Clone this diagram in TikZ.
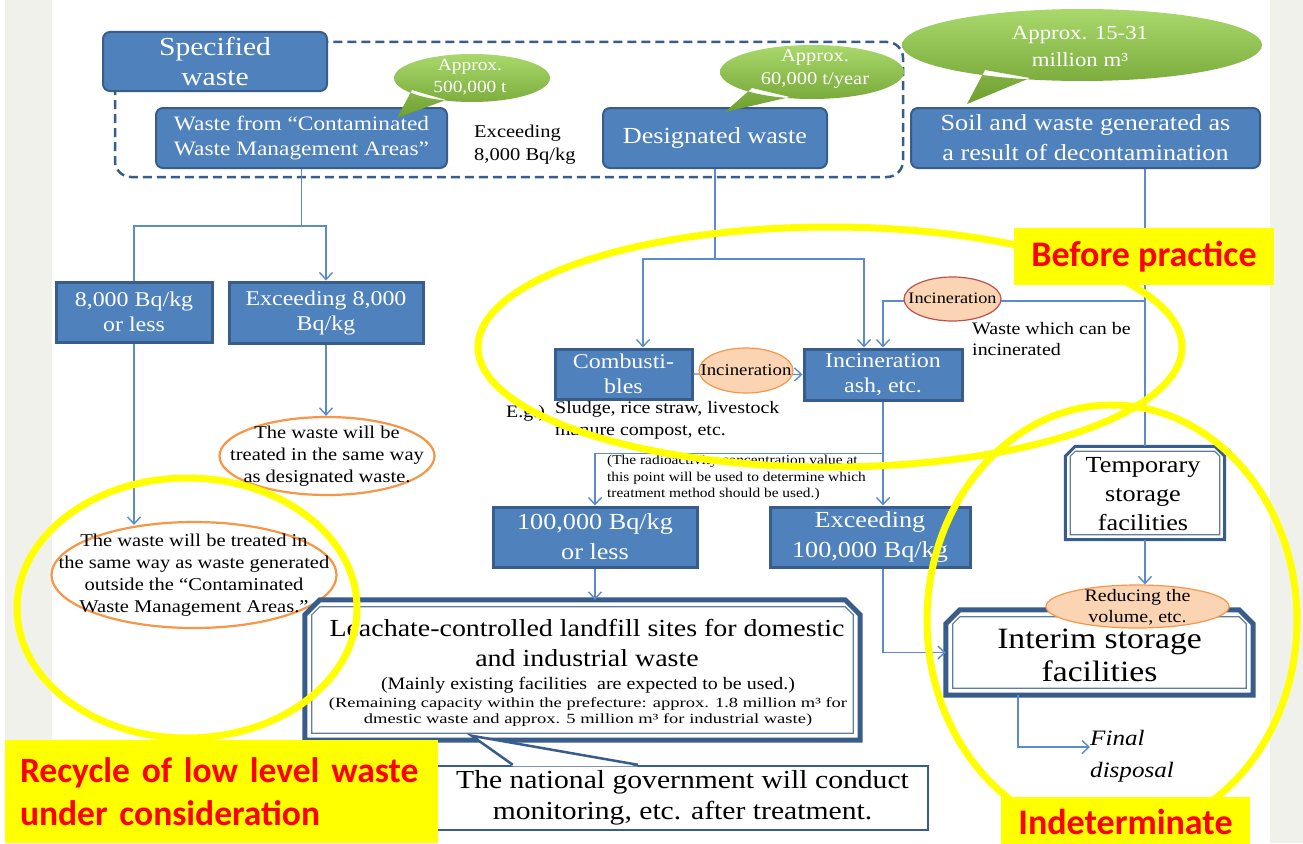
\documentclass[tikz,border=0pt]{standalone}
\usepackage{fontspec}
\usepackage{graphicx}
\setmainfont{Liberation Serif}[FakeStretch=1.14]
\newfontfamily\labfont{Carlito}
\usetikzlibrary{arrows.meta,shapes.geometric,calc}
\definecolor{bfill}{HTML}{4F81BD}
\definecolor{bdark}{HTML}{385D8A}
\definecolor{lineblue}{HTML}{5B8BC9}
\definecolor{orng}{HTML}{F79646}
\definecolor{peach}{HTML}{FBD4B4}
\definecolor{redbrd}{HTML}{C0504D}
\definecolor{ylw}{HTML}{FFFF00}
\definecolor{gleft}{HTML}{F1F1EC}
\definecolor{gtop}{HTML}{A9D86C}
\definecolor{gbot}{HTML}{6E9F2E}
\newcommand\fsz[2]{\fontsize{#1}{#2}\selectfont}
\newcommand\chframe[4]{%
 \draw[bdark,line width=#3,fill=white,line join=miter] (#1.south west) -- ($(#1.north west)+(0,#2)$) -- ($(#1.north west)+(#2,0)$) -- ($(#1.north east)+(-#2,0)$) -- ($(#1.north east)+(0,#2)$) -- (#1.south east) -- cycle;
 \draw[bdark!80,line width=1.2pt] ($(#1.south west)+(#4,-#4)$) -- ($(#1.north west)+(#4,#2)$) -- ($(#1.north west)+(#2,#4)$) -- ($(#1.north east)+(-#2,#4)$) -- ($(#1.north east)+(-#4,#2)$) -- ($(#1.south east)+(-#4,-#4)$) -- cycle;
}
\begin{document}
\begin{tikzpicture}[x=1pt,y=-1pt,
  rbox/.style={draw=bdark,fill=bfill,line width=2pt,rounded corners=7pt,text=white,align=center,inner sep=0pt},
  sbox/.style={draw=bdark,fill=bfill,line width=3pt,text=white,align=center,inner sep=0pt},
  conn/.style={draw=lineblue,line width=1.4pt},
  arr/.style={conn,-{Straight Barb[length=7pt,width=13pt,line width=1.4pt]}},
  oval/.style={ellipse,draw=orng,line width=2.2pt,inner sep=0pt},
  poval/.style={ellipse,draw=orng,fill=peach,line width=1.2pt,inner sep=0pt},
  plain/.style={inner sep=0pt,align=center},
  hl/.style={draw=ylw,line width=7pt},
  lab/.style={fill=ylw,text=red,inner sep=0pt,font=\labfont\bfseries\fsz{36}{43}},
  gbubble/.style={top color=gtop,bottom color=gbot,draw=none}
]
\useasboundingbox (0,0) rectangle (1303,843);
\fill[white] (0,0) rectangle (1303,843);
\fill[gleft] (5,0) rectangle (52,843);
\fill[gleft] (1270,0) rectangle (1303,843);

% dashed group frame
\draw[bdark,line width=2.5pt,dash pattern=on 9pt off 5pt,rounded corners=16pt] (115,42) rectangle (903,177);

% top boxes
\node[rbox,minimum width=224,minimum height=59,font=\fsz{26}{30}] (spec) at (215,61.5) {Specified\\waste};
\node[rbox,minimum width=291,minimum height=60,font=\fsz{20.5}{25}] (wfc) at (301.5,138) {Waste from “Contaminated\\Waste Management Areas”};
\node[plain,anchor=north west,align=left,font=\fsz{18}{23}] (ex8t) at (474,125) {Exceeding\\8,000 Bq/kg};
\node[rbox,minimum width=224,minimum height=60,font=\fsz{23}{28}] (desig) at (715,138) {Designated waste};
\node[rbox,minimum width=349,minimum height=60,font=\fsz{23}{30}] (soil) at (1085.5,138) {Soil and waste generated as\\a result of decontamination};

% second row
\node[sbox,minimum width=156,minimum height=60,font=\fsz{21}{25}] (b8k) at (134,312) {8,000 Bq/kg\\or less};
\node[sbox,minimum width=194,minimum height=61,font=\fsz{21}{25}] (ex8k) at (326,312.5) {Exceeding 8,000\\Bq/kg};
\node[oval,minimum width=215,minimum height=78] (ov1) at (327,456) {};
\node[plain,font=\fsz{18}{22}] (ov1t) at (327,456) {The waste will be\\treated in the same way\\as designated waste.};
\node[oval,minimum width=285,minimum height=106] (ov2) at (194,575) {};
\node[plain,font=\fsz{18}{22}] (ov2t) at (194,575) {The waste will be treated in\\the same way as waste generated\\outside the “Contaminated\\Waste Management Areas.”};

\node[sbox,minimum width=137,minimum height=50,font=\fsz{21}{25}] (comb) at (623.5,374) {Combusti-\\bles};
\node[sbox,minimum width=158,minimum height=51,font=\fsz{21}{25}] (incash) at (883,374.5) {Incineration\\ash, etc.};
\node[plain,anchor=north west,align=left,font=\fsz{17.5}{21}] (wcan) at (972,322) {Waste which can be\\incinerated};
\node[plain,anchor=west,font=\fsz{17.5}{22}] (eg) at (506,413) {E.g.)};
\node[plain,anchor=north west,align=left,font=\fsz{17.5}{22}] (egt) at (555,401) {Sludge, rice straw, livestock\\manure compost, etc.};
\node[plain,anchor=north west,align=left,font=\fsz{13.5}{16.5}] (paren) at (607,455) {(The radioactivity concentration value at\\this point will be used to determine which\\treatment method should be used.)};

\node[sbox,minimum width=204,minimum height=60,font=\fsz{23}{30}] (k100) at (595,537) {100,000 Bq/kg\\or less};
\node[sbox,minimum width=200,minimum height=60,font=\fsz{23}{30}] (ex100) at (870,537) {Exceeding\\100,000 Bq/kg};

% leachate frame
\node[plain,minimum width=555,minimum height=140] (leach) at (582.5,670) {};
\chframe{leach}{15}{5pt}{7}
\node[plain,font=\fsz{24.5}{30}] (leacht) at (587,643) {Leachate-controlled landfill sites for domestic\\and industrial waste};
\node[plain,font=\fsz{17.5}{20}] (leach2) at (588,685) {(Mainly existing facilities\ \ are expected to be used.)};
\node[plain,font=\fsz{14}{16.5}] (leach3) at (588,712) {\scalebox{1.16}[1]{\begin{tabular}{@{}c@{}}(Remaining capacity within the prefecture: approx. 1.8 million m³ for\\dmestic waste and approx. 5 million m³ for industrial waste)\end{tabular}}};

% government callout
\node[draw=bdark,line width=2.5pt,fill=white,minimum width=491,minimum height=64,inner sep=0pt,align=center,font=\fsz{26}{31}] (gov) at (682.5,798) {The national government will conduct\\monitoring, etc. after treatment.};
\fill[white] ($(gov.north west)+(77,1.6)$) -- ($(gov.north west)+(36,-29)$) -- ($(gov.north west)+(202,1.6)$) -- cycle;
\draw[bdark,line width=2.5pt] ($(gov.north west)+(77,0)$) -- ($(gov.north west)+(36,-29)$) -- ($(gov.north west)+(202,0)$);

% right column
\node[plain,minimum width=159,minimum height=93] (temp) at (1145,493) {};
\chframe{temp}{10}{3pt}{5}
\node[plain,font=\fsz{23}{29}] (tempt) at (1143,494) {Temporary\\storage\\facilities};
\node[plain,minimum width=307,minimum height=85] (interim) at (1099.5,652.5) {};
\chframe{interim}{14}{5pt}{7}
\node[plain,font=\fsz{29.5}{33}] (interimt) at (1099.5,655) {Interim storage\\facilities};
\node[poval,minimum width=183,minimum height=43] (reduce) at (1137.5,606.5) {};
\node[plain,font=\fsz{17.5}{21}] (reducet) at (1137.5,607) {Reducing the\\volume, etc.};
\node[plain,anchor=west,align=left,font=\itshape\fsz{22}{32}] (final) at (1090,756) {Final\\disposal};

% connectors
\coordinate (j1) at ($(wfc.south)+(0,57)$);
\draw[conn] (wfc.south) -- (j1);
\draw[conn] (j1) -| (b8k.north);
\draw[arr] (j1) -| (ex8k.north);
\draw[arr] (ex8k.south) -- (ex8k.south |- ov1.north);
\draw[arr] (b8k.south) -- ($(b8k.south |- ov2.north)+(0,4)$);

\coordinate (j2) at ($(desig.south)+(0,90)$);
\draw[conn] (desig.south) -- (j2);
\draw[arr] (j2) -| ($(comb.north)+(19.5,0)$);
\draw[arr] (j2) -| ($(incash.north)+(-19,0)$);
\draw[arr] (comb.east) -- (incash.west);

\draw[conn] (soil.south -| temp.north) -- (temp.north);
\coordinate (j3) at ($(soil.south -| temp.north)+(0,132)$);
\draw[arr] (j3) -| (incash.north);

\coordinate (j4) at ($(incash.south)+(0,52)$);
\draw[conn] (incash.south) -- (j4);
\draw[arr] (j4) -| (k100.north);
\draw[arr] (j4) -- (j4 |- ex100.north);
\draw[arr] (k100.south) -- (k100.south |- leach.north);
\draw[arr] (ex100.south -| incash.south) |- (interim.west);
\draw[arr] (temp.south) -- (temp.south |- reduce.north);
\draw[arr] ($(interim.south west)+(72,0)$) |- ($(final.west)+(0,-9)$);

% small incineration ellipses
\node[poval,minimum width=94,minimum height=45] (inc1) at (746,370.5) {};
\node[plain,font=\fsz{16.5}{18}] (inc1t) at (746,370.5) {Incineration};
\node[ellipse,draw=redbrd,fill=peach,line width=1.2pt,inner sep=0pt,minimum width=97,minimum height=44] (inc2) at (952.5,299) {};
\node[plain,font=\fsz{16}{18}] (inc2t) at (952.5,298) {Incineration};

% green bubbles
\shade[gbubble] (472,78) ellipse [x radius=78, y radius=24] (412,90) -- (397,118) -- (446,100) -- cycle;
\node[plain,text=white,font=\fsz{17}{22}] (b500) at (470,77) {Approx.\\500,000 t};
\shade[gbubble] (812,72) ellipse [x radius=92, y radius=27] (752,88) -- (725,112) -- (790,97) -- cycle;
\node[plain,text=white,font=\fsz{18}{23}] (b60) at (815,69) {Approx.\\60,000 t/year};
\shade[gbubble] (1082,45) ellipse [x radius=180, y radius=36] (985,70) -- (967,104) -- (1030,78) -- cycle;
\node[plain,text=white,font=\fsz{20}{27}] (b1531) at (1080,46) {Approx. 15-31\\million m³};

% yellow highlights
\draw[hl] (830,347) ellipse [x radius=352, y radius=120];
\draw[hl] (1112,620) ellipse [x radius=185, y radius=215];
\draw[hl] (187,608) ellipse [x radius=170, y radius=130];

% labels
\node[lab,minimum width=260,minimum height=57] (lbp) at (1144,256.5) {Before practice};
\node[lab,minimum width=433,minimum height=103,align=left,text width=403,font=\labfont\bfseries\fsz{35.5}{43}] (lrc) at (221.5,791.5) {Recycle of low level waste\\under consideration};
\node[lab,minimum width=249,minimum height=50] (lind) at (1125.5,822) {Indeterminate};
\end{tikzpicture}
\end{document}
